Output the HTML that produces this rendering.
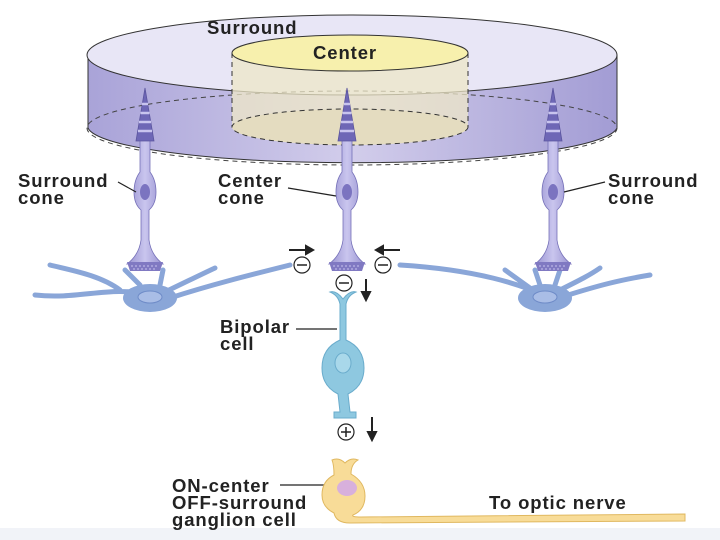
<!DOCTYPE html>
<html><head><style>
body{margin:0;background:#fff}
svg{display:block}
text{font-family:"Liberation Sans",Arial,sans-serif;font-weight:bold;font-size:18.5px;letter-spacing:0.9px;fill:#222}
</style></head><body>
<svg width="720" height="540" viewBox="0 0 720 540" xmlns="http://www.w3.org/2000/svg">
<defs>
<linearGradient id="side" x1="0" x2="1" y1="0" y2="0">
<stop offset="0" stop-color="#a9a3d8"/><stop offset="0.5" stop-color="#d2cdeb"/><stop offset="1" stop-color="#a29cd4"/>
</linearGradient>
<linearGradient id="cone" x1="0" x2="1"><stop offset="0" stop-color="#9892d0"/><stop offset="0.5" stop-color="#c9c5ee"/><stop offset="1" stop-color="#9892d0"/></linearGradient>
<g id="cn">
<path d="M-5,140 L-5,172 Q-11,180 -11,192 Q-11,204 -4,210 L-4,240 Q-6,255 -18,264 L18,264 Q6,255 4,240 L4,210 Q11,204 11,192 Q11,180 5,172 L5,140 Z" fill="url(#cone)" stroke="#7570b8" stroke-width="0.8"/>
<path d="M-9,141 L0,88 L9,141 Z" fill="#6e67b6" stroke="#5b559e" stroke-width="0.8"/>
<path d="M-7,131 h14 M-6,122 h12 M-4.5,113 h9 M-3,104 h6" stroke="#c8c4ee" stroke-width="2.5"/>
<ellipse cx="0" cy="192" rx="5" ry="8" fill="#7b74c0"/>
<path d="M-18,262 h36 l-3,9 h-30 Z" fill="#8079c2"/>
<path d="M-14,266 h28 M-12,269 h24" stroke="#c8c4ee" stroke-width="1" stroke-dasharray="2,2"/>
</g>
</defs>
<rect x="0" y="528" width="720" height="12" fill="#f1f3f8"/>
<path d="M88,55 L88,128 A265,37 0 0 0 617,128 L617,55 Z" fill="url(#side)" stroke="#333" stroke-width="1"/>
<ellipse cx="352" cy="55" rx="265" ry="40" fill="#e8e6f6" stroke="#333" stroke-width="1"/>
<ellipse cx="352" cy="128" rx="265" ry="37" fill="none" stroke="#444" stroke-dasharray="5,4"/>
<path d="M232,53 L232,127 A118,18 0 0 0 468,127 L468,53 Z" fill="#ede7c7" opacity="0.75"/>
<ellipse cx="350" cy="127" rx="118" ry="18" fill="#e4dcc0" stroke="#333" stroke-dasharray="5,4"/>
<path d="M232,53 V127 M468,53 V127" stroke="#333" stroke-dasharray="5,4"/>
<ellipse cx="350" cy="53" rx="118" ry="18" fill="#f7f0ad" stroke="#333"/>
<text x="207" y="34">Surround</text>
<text x="313" y="59">Center</text>
<g stroke="#8aa6d8" stroke-width="5" fill="none" stroke-linecap="round">
<path d="M150,295 C110,285 80,300 35,295 M120,290 C100,275 70,270 50,265 M140,285 L125,270 M160,285 L163,270 M165,292 C190,280 200,275 215,268 M170,298 C210,285 250,275 290,265"/>
<path d="M545,295 C520,285 480,270 400,265 M530,288 L505,270 M540,285 L535,270 M555,285 L560,270 M560,290 C580,280 590,275 600,268 M565,296 C600,285 620,280 650,275"/>
</g>
<ellipse cx="150" cy="298" rx="27" ry="14" fill="#8aa6d8"/><ellipse cx="150" cy="297" rx="12" ry="6" fill="#a9bde6" stroke="#6f8cc8"/>
<ellipse cx="545" cy="298" rx="27" ry="14" fill="#8aa6d8"/><ellipse cx="545" cy="297" rx="12" ry="6" fill="#a9bde6" stroke="#6f8cc8"/>
<use href="#cn" x="145"/><use href="#cn" x="347"/><use href="#cn" x="553"/>
<g stroke="#222" stroke-width="1.2">
<path d="M118,182 L136,192 M288,188 L336,196 M605,182 L564,192 M296,329 L337,329 M280,485 L338,485"/>
</g>
<text x="18" y="187">Surround</text><text x="18" y="204">cone</text>
<text x="218" y="187">Center</text><text x="218" y="204">cone</text>
<text x="608" y="187">Surround</text><text x="608" y="204">cone</text>
<g fill="#fff" stroke="#222" stroke-width="1.2">
<circle cx="302" cy="265" r="8"/><circle cx="383" cy="265" r="8"/><circle cx="344" cy="283" r="8"/><circle cx="346" cy="432" r="8"/>
</g>
<path d="M297,265 h10 M378,265 h10 M339,283 h10 M341,432 h10 M346,427 v10" stroke="#222" stroke-width="1.5"/>
<g stroke="#222" stroke-width="2" fill="#222">
<path d="M289,250 h20"/><path d="M313,250 l-7,-4 v8 Z"/>
<path d="M400,250 h-20"/><path d="M376,250 l7,-4 v8 Z"/>
<path d="M366,279 v16"/><path d="M366,300 l-4,-8 h8 Z"/>
<path d="M372,417 v17"/><path d="M372,440 l-4,-8 h8 Z"/>
</g>
<path d="M330,292 q8,3 10,12 L340,340 q-18,8 -18,28 q0,18 16,26 L340,412 h-6 v6 h22 v-6 h-6 L348,394 q16,-8 16,-26 q0,-20 -18,-28 L346,304 q2,-9 10,-12 q-6,-2 -13,7 q-7,-9 -13,-7 Z" fill="#8ec8e0" stroke="#6aaccc"/>
<ellipse cx="343" cy="363" rx="8" ry="10" fill="#a9d8ea" stroke="#6aaccc"/>
<text x="220" y="333">Bipolar</text><text x="220" y="350">cell</text>
<path d="M332,460 q7,-3 13,3 q6,-6 13,-3 q-7,4 -7,14 q14,8 14,22 q0,14 -12,19 q-2,2 8,2 L685,514 L685,521 L350,523 q-14,0 -16,-10 q-12,-6 -12,-18 q0,-14 12,-20 q0,-10 -2,-15 Z" fill="#f8dc98" stroke="#e0b860"/>
<ellipse cx="347" cy="488" rx="10" ry="8" fill="#d8b0dc"/>
<text x="172" y="492">ON-center</text><text x="172" y="509">OFF-surround</text><text x="172" y="526">ganglion cell</text>
<text x="489" y="509">To optic nerve</text>
</svg>
</body></html>
